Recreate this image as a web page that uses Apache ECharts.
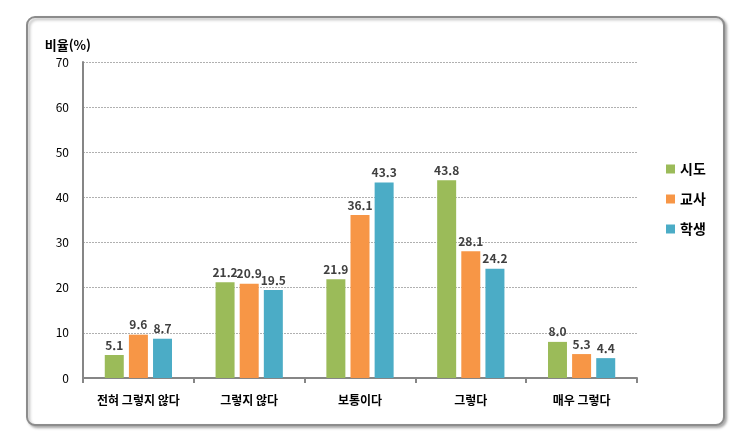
<!DOCTYPE html>
<html lang="ko">
<head>
<meta charset="UTF-8">
<title>비율</title>
<style>
  html, body { margin: 0; padding: 0; background: #fff; }
  #chart { width: 737px; height: 437px; }
</style>
</head>
<body>
<div id="chart"></div>
<script src="https://cdn.jsdelivr.net/npm/echarts@6/dist/echarts.min.js"></script>
<script>
  var categories = ['전혀 그렇지 않다', '그렇지 않다', '보통이다', '그렇다', '매우 그렇다'];
  var sidoValues = [5.1, 21.2, 21.9, 43.8, 8.0];
  var teacherValues = [9.6, 20.9, 36.1, 28.1, 5.3];
  var studentValues = [8.7, 19.5, 43.3, 24.2, 4.4];
  var seriesNames = ['시도', '교사', '학생'];
  var colors = ['#9BBB59', '#F79646', '#4BACC6'];

  var font = '"Noto Sans CJK KR", "Noto Sans", sans-serif';

  function makeSeries(name, data, color) {
    return {
      name: name,
      type: 'bar',
      data: data,
      barWidth: 19,
      barGap: '27%',
      itemStyle: { color: color },
      label: {
        show: true,
        position: 'top',
        distance: 4,
        formatter: function (p) { return p.value.toFixed(1); },
        color: '#404040',
        fontWeight: 'bold',
        fontSize: 12,
        fontFamily: font
      }
    };
  }

  var chart = echarts.init(document.getElementById('chart'));
  chart.setOption({
    animation: false,
    textStyle: { fontFamily: font },
    graphic: [{
      type: 'rect',
      left: 26,
      top: 16,
      shape: { width: 697, height: 408, r: 8 },
      style: {
        fill: '#fff',
        stroke: '#8c8c8c',
        lineWidth: 2,
        shadowBlur: 3,
        shadowOffsetX: 2,
        shadowOffsetY: 2,
        shadowColor: 'rgba(0,0,0,0.3)'
      },
      z: -10
    }],
    grid: { left: 83, right: 100, top: 62, bottom: 59 },
    legend: {
      orient: 'vertical',
      left: 661,
      top: 157,
      itemWidth: 9,
      itemHeight: 9,
      itemGap: 16,
      icon: 'rect',
      data: seriesNames,
      textStyle: { fontSize: 14, fontWeight: 'bold', color: '#000', fontFamily: font }
    },
    xAxis: {
      type: 'category',
      data: categories,
      axisLine: { lineStyle: { color: '#868686', width: 2 } },
      axisTick: { show: true, length: 5, lineStyle: { color: '#868686', width: 2 } },
      axisLabel: { color: '#000', fontSize: 12, fontWeight: 'bold', margin: 16, fontFamily: font }
    },
    yAxis: {
      type: 'value',
      min: 0,
      max: 70,
      interval: 10,
      name: '비율(%)',
      nameLocation: 'end',
      nameGap: 10,
      nameTextStyle: { color: '#000', fontSize: 13, fontWeight: 'bold', align: 'right', padding: [0, -8, 0, 0], fontFamily: font },
      axisLine: { show: true, lineStyle: { color: '#868686', width: 2 } },
      axisTick: { show: false },
      axisLabel: { color: '#000', fontSize: 12, margin: 14, fontFamily: font },
      splitLine: { lineStyle: { color: '#b0b0b0', type: [2, 1], width: 1 } }
    },
    series: [
      makeSeries(seriesNames[0], sidoValues, colors[0]),
      makeSeries(seriesNames[1], teacherValues, colors[1]),
      makeSeries(seriesNames[2], studentValues, colors[2])
    ]
  });
</script>
</body>
</html>
